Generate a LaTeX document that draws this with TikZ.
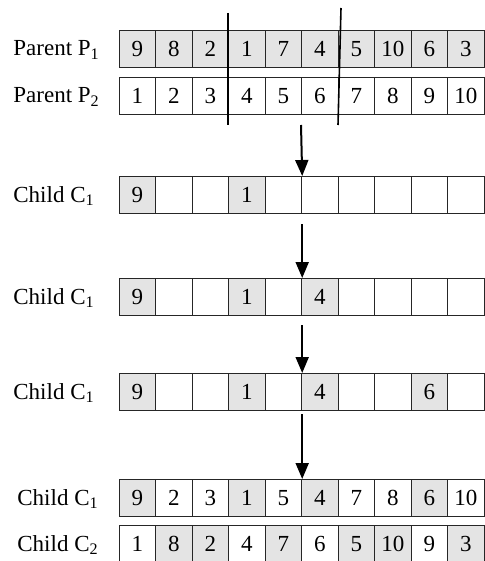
\documentclass[tikz,border=0pt]{standalone}
\usepackage{fontspec}
\setmainfont{Liberation Serif}
\usetikzlibrary{arrows.meta}
\definecolor{cellgray}{HTML}{E4E4E4}

\begin{document}
\begin{tikzpicture}[x=0.5pt,y=-0.5pt,>={Triangle[length=8pt,width=6.5pt]},
  font=\fontsize{11.5}{13}\selectfont,
  cell/.style={draw=black!85,line width=0.6pt,minimum width=18.25pt,minimum height=18.5pt,inner sep=0pt,anchor=north west},
  row label/.style={anchor=base west,inner sep=0pt},
  cut line/.style={line width=0.8pt},
  step arrow/.style={->,line width=1pt}]
\useasboundingbox (0,0) rectangle (485,561);

% parents
\foreach \v [count=\i] in {9,8,2,1,7,4,5,10,6,3}
  \node[cell,fill=cellgray] (p1-\i) at (118.5+36.5*\i-36.5,30) {\v};
\foreach \v [count=\i] in {1,2,3,4,5,6,7,8,9,10}
  \node[cell,fill=white] (p2-\i) at (118.5+36.5*\i-36.5,77) {\v};

% children, step by step
\foreach \v/\c [count=\i] in {9/cellgray,/white,/white,1/cellgray,/white,/white,/white,/white,/white,/white}
  \node[cell,fill=\c] (ca-\i) at (118.5+36.5*\i-36.5,176) {\v};
\foreach \v/\c [count=\i] in {9/cellgray,/white,/white,1/cellgray,/white,4/cellgray,/white,/white,/white,/white}
  \node[cell,fill=\c] (cb-\i) at (118.5+36.5*\i-36.5,278) {\v};
\foreach \v/\c [count=\i] in {9/cellgray,/white,/white,1/cellgray,/white,4/cellgray,/white,/white,6/cellgray,/white}
  \node[cell,fill=\c] (cc-\i) at (118.5+36.5*\i-36.5,373) {\v};
\foreach \v/\c [count=\i] in {9/cellgray,2/white,3/white,1/cellgray,5/white,4/cellgray,7/white,8/white,6/cellgray,10/white}
  \node[cell,fill=\c] (cd-\i) at (118.5+36.5*\i-36.5,479) {\v};
\foreach \v/\c [count=\i] in {1/white,8/cellgray,2/cellgray,4/white,7/cellgray,6/white,5/cellgray,10/cellgray,9/white,3/cellgray}
  \node[cell,fill=\c] (ce-\i) at (118.5+36.5*\i-36.5,525) {\v};

% row names
\node[row label] (lp1) at (13,56) {Parent P\textsubscript{1}};
\node[row label] (lp2) at (13,103) {Parent P\textsubscript{2}};
\node[row label] (lca) at (13,202) {Child C\textsubscript{1}};
\node[row label] (lcb) at (13,304) {Child C\textsubscript{1}};
\node[row label] (lcc) at (13,399) {Child C\textsubscript{1}};
\node[row label] (lcd) at (17,505) {Child C\textsubscript{1}};
\node[row label] (lce) at (17,551) {Child C\textsubscript{2}};

% cut points
\coordinate (cut1 top) at (228,13);
\coordinate (cut1 bot) at (228,125);
\coordinate (cut2 top) at (341,8);
\coordinate (cut2 bot) at (338,125);
\coordinate (split) at (301,125);
\draw[cut line] (cut1 top) -- (cut1 bot);
\draw[cut line] (cut2 top) -- (cut2 bot);

\path[step arrow]
  (split) edge (ca-5.north east)
  (ca-5.south east) edge[shorten <=5pt] (cb-5.north east)
  (cb-5.south east) edge[shorten <=4.5pt] (cc-5.north east)
  (cc-5.south east) edge[shorten <=1.5pt] (cd-5.north east)
;

\end{tikzpicture}
\end{document}
